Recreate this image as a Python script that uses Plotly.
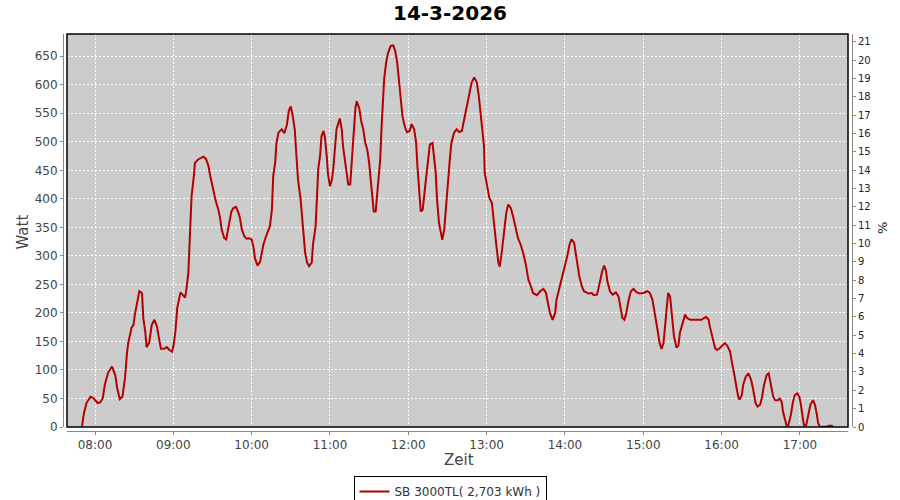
import plotly.graph_objects as go

day = "2026-03-14"
title_text = "14-3-2026"
series_name = "SB 3000TL( 2,703 kWh )"

times = [
    "07:50:00", "07:51:30", "07:53:30", "07:56:30", "07:58:30", "08:02:00", "08:04:00", "08:06:00", "08:07:30", "08:10:00",
    "08:13:00", "08:15:30", "08:17:00", "08:19:00", "08:21:00", "08:23:00", "08:24:30", "08:25:30", "08:28:00", "08:29:30",
    "08:30:30", "08:32:30", "08:34:00", "08:36:00", "08:37:00", "08:38:30", "08:39:30", "08:41:30", "08:43:30", "08:45:30",
    "08:47:30", "08:48:30", "08:50:30", "08:53:00", "08:55:00", "08:57:00", "08:59:00", "09:00:00", "09:01:30", "09:03:00",
    "09:04:30", "09:05:30", "09:07:00", "09:09:00", "09:10:00", "09:11:30", "09:13:00", "09:14:00", "09:16:00", "09:16:30",
    "09:19:00", "09:23:00", "09:25:00", "09:27:00", "09:28:00", "09:29:30", "09:31:00", "09:32:30", "09:34:30", "09:36:00",
    "09:37:00", "09:39:00", "09:40:30", "09:42:00", "09:43:30", "09:44:30", "09:46:00", "09:48:00", "09:49:30", "09:51:00",
    "09:52:30", "09:54:30", "09:56:00", "09:58:00", "10:00:00", "10:01:30", "10:02:30", "10:04:30", "10:06:30", "10:07:30",
    "10:09:00", "10:11:00", "10:13:00", "10:14:00", "10:15:30", "10:16:30", "10:18:00", "10:19:00", "10:20:30", "10:23:00",
    "10:25:00", "10:27:00", "10:28:30", "10:30:00", "10:31:30", "10:33:00", "10:34:30", "10:35:30", "10:37:30", "10:39:00",
    "10:41:00", "10:42:30", "10:44:00", "10:46:00", "10:47:00", "10:49:00", "10:50:00", "10:51:00", "10:52:30", "10:53:30",
    "10:55:00", "10:56:00", "10:57:30", "10:58:30", "11:00:00", "11:01:30", "11:02:30", "11:04:00", "11:05:00", "11:07:30",
    "11:09:00", "11:10:00", "11:13:00", "11:14:00", "11:15:30", "11:16:30", "11:18:00", "11:19:30", "11:20:30", "11:22:30",
    "11:24:00", "11:25:30", "11:27:00", "11:28:30", "11:30:00", "11:31:00", "11:32:30", "11:33:30", "11:35:00", "11:36:00",
    "11:37:30", "11:38:30", "11:39:30", "11:40:30", "11:41:30", "11:43:00", "11:44:30", "11:46:30", "11:48:30", "11:50:00",
    "11:51:30", "11:53:00", "11:54:30", "11:55:30", "11:57:30", "11:59:00", "12:01:00", "12:02:30", "12:04:30", "12:06:00",
    "12:07:00", "12:08:30", "12:09:30", "12:11:00", "12:12:00", "12:13:30", "12:15:30", "12:16:30", "12:18:30", "12:19:30",
    "12:21:00", "12:22:00", "12:23:30", "12:25:00", "12:26:00", "12:27:30", "12:29:00", "12:30:30", "12:32:00", "12:33:00",
    "12:35:00", "12:37:00", "12:39:00", "12:41:00", "12:42:00", "12:43:30", "12:45:00", "12:46:30", "12:48:30", "12:50:30",
    "12:52:30", "12:54:00", "12:55:30", "12:56:30", "12:58:00", "12:58:30", "13:00:30", "13:02:00", "13:04:00", "13:05:00",
    "13:06:30", "13:07:30", "13:09:00", "13:10:00", "13:11:30", "13:13:30", "13:15:00", "13:16:30", "13:18:30", "13:20:30",
    "13:22:30", "13:24:00", "13:26:00", "13:28:00", "13:30:00", "13:32:00", "13:34:00", "13:35:30", "13:38:30", "13:41:00",
    "13:43:30", "13:45:30", "13:47:00", "13:48:30", "13:50:30", "13:52:30", "13:53:30", "13:55:30", "13:57:00", "13:58:30",
    "14:00:00", "14:02:00", "14:03:30", "14:05:00", "14:07:00", "14:08:30", "14:09:30", "14:11:00", "14:13:00", "14:14:30",
    "14:18:00", "14:20:30", "14:22:00", "14:24:30", "14:25:30", "14:27:00", "14:28:30", "14:30:00", "14:31:30", "14:32:30",
    "14:34:30", "14:36:30", "14:39:00", "14:41:00", "14:42:30", "14:44:00", "14:45:30", "14:47:00", "14:48:30", "14:50:30",
    "14:52:30", "14:55:00", "14:57:30", "15:00:00", "15:03:00", "15:05:00", "15:07:00", "15:09:00", "15:10:30", "15:12:30",
    "15:14:00", "15:15:30", "15:16:30", "15:18:00", "15:19:00", "15:20:30", "15:22:00", "15:23:30", "15:25:30", "15:27:00",
    "15:28:00", "15:29:30", "15:32:00", "15:33:30", "15:36:00", "15:41:00", "15:44:30", "15:48:00", "15:50:00", "15:51:00",
    "15:53:00", "15:55:00", "15:56:30", "15:58:30", "16:01:00", "16:02:30", "16:04:30", "16:06:30", "16:07:30", "16:09:00",
    "16:10:00", "16:11:30", "16:13:00", "16:14:00", "16:15:30", "16:16:30", "16:18:30", "16:20:30", "16:22:30", "16:24:00",
    "16:25:00", "16:26:00", "16:27:30", "16:29:30", "16:31:00", "16:32:30", "16:34:30", "16:36:00", "16:37:00", "16:38:30",
    "16:39:30", "16:41:00", "16:43:00", "16:44:30", "16:46:00", "16:47:00", "16:48:30", "16:50:00", "16:51:00", "16:53:00",
    "16:54:30", "16:56:00", "16:58:00", "16:59:30", "17:00:30", "17:02:00", "17:03:00", "17:04:30", "17:06:30", "17:08:00",
    "17:10:00", "17:11:30", "17:13:00", "17:14:00", "17:15:30", "17:19:00", "17:20:30", "17:22:30", "17:24:30", "17:25:30",
]

watt = [
    0, 24, 42, 53, 51, 42, 43, 51, 74, 95,
    106, 91, 68, 49, 53, 86, 130, 148, 174, 179,
    197, 220, 238, 235, 191, 167, 140, 148, 179, 188,
    176, 162, 137, 137, 140, 135, 132, 141, 165, 209,
    227, 236, 232, 227, 241, 270, 352, 405, 446, 463,
    469, 474, 470, 457, 443, 425, 413, 396, 381, 364,
    346, 331, 329, 346, 364, 378, 384, 386, 378, 367,
    346, 334, 330, 331, 329, 314, 296, 283, 290, 305,
    320, 334, 346, 352, 381, 440, 463, 498, 516, 522,
    515, 530, 555, 562, 545, 522, 469, 434, 399, 352,
    305, 288, 282, 288, 320, 352, 405, 452, 478, 510,
    519, 510, 475, 443, 422, 434, 452, 492, 522, 541,
    522, 492, 446, 425, 425, 457, 504, 560, 571, 558,
    535, 522, 498, 487, 463, 434, 405, 378, 378, 405,
    452, 470, 525, 574, 610, 639, 656, 668, 669, 659,
    639, 604, 574, 545, 525, 517, 519, 531, 522, 498,
    457, 416, 378, 381, 405, 434, 475, 495, 498, 475,
    446, 399, 358, 340, 328, 346, 393, 428, 475, 498,
    516, 522, 517, 519, 531, 544, 566, 586, 604, 613,
    604, 580, 551, 522, 492, 446, 422, 402, 393, 369,
    346, 317, 288, 281, 305, 340, 375, 390, 384, 367,
    349, 331, 320, 305, 285, 258, 246, 235, 231, 238,
    242, 235, 217, 200, 188, 200, 223, 241, 258, 270,
    285, 302, 320, 329, 323, 299, 282, 264, 246, 238,
    234, 235, 231, 232, 241, 258, 273, 283, 273, 255,
    238, 232, 236, 229, 206, 191, 188, 200, 220, 238,
    242, 236, 234, 235, 238, 235, 223, 200, 176, 147,
    137, 147, 176, 206, 235, 229, 197, 159, 139, 143,
    165, 179, 197, 191, 188, 188, 188, 193, 188, 176,
    156, 138, 135, 138, 144, 147, 142, 132, 118, 103,
    88, 68, 50, 49, 56, 74, 88, 94, 83, 68,
    53, 42, 36, 39, 53, 74, 91, 94, 83, 68,
    53, 47, 47, 50, 44, 27, 12, 0, 2, 21,
    42, 56, 59, 53, 42, 18, 4, 0, 21, 39,
    47, 39, 21, 6, 0, 0, 1, 2, 2, 0,
]

hour_ticks = ["08:00", "09:00", "10:00", "11:00", "12:00", "13:00", "14:00", "15:00", "16:00", "17:00"]
watt_ticks = list(range(0, 651, 50))
pct_ticks = list(range(0, 22))

x_vals = [f"{day} {t}" for t in times]

fig = go.Figure()
fig.add_trace(go.Scatter(
    x=x_vals, y=watt, mode="lines", name=series_name,
    line=dict(color="#B40000", width=2), showlegend=True,
))
fig.add_trace(go.Scatter(x=[], y=[], yaxis="y2", showlegend=False, hoverinfo="skip"))

font_fam = "DejaVu Sans"
grid = dict(showgrid=True, gridcolor="white", griddash="2px,2px", gridwidth=1)

fig.update_layout(
    width=900, height=500,
    margin=dict(l=63, r=48, t=34, b=69, pad=0),
    paper_bgcolor="white", plot_bgcolor="#CCCCCC",
    font=dict(family=font_fam, size=12, color="#444444"),
    title=dict(text="<b>" + title_text + "</b>", x=0.5, xanchor="center", xref="container",
               y=1 - 13 / 500, yref="container", yanchor="middle",
               font=dict(family=font_fam, size=20, color="black")),
    xaxis=dict(
        type="date", domain=[4 / 789, 785 / 789], anchor="free", position=0,
        range=[f"{day} 07:38:33", f"{day} 17:36:48"],
        tickvals=[f"{day} {h}" for h in hour_ticks], ticktext=hour_ticks,
        showline=True, linecolor="#888888", linewidth=1,
        ticks="outside", ticklen=3, tickcolor="#888888",
        tickfont=dict(size=12, color="#444444"),
        zeroline=False, **grid,
    ),
    yaxis=dict(
        domain=[4 / 397, 1], anchor="free", position=0,
        range=[0, 689], tickvals=watt_ticks,
        showline=True, linecolor="#888888", linewidth=1,
        ticks="outside", ticklen=3, tickcolor="#888888",
        tickfont=dict(size=12, color="#444444"),
        zeroline=False, **grid,
    ),
    yaxis2=dict(
        overlaying="y", side="right", anchor="free", position=1,
        range=[0, 21.42], tickvals=pct_ticks,
        showline=True, linecolor="#888888", linewidth=1,
        ticks="outside", ticklen=3, tickcolor="#888888",
        tickfont=dict(size=10, color="#222222"),
        showgrid=False, zeroline=False,
    ),
    legend=dict(
        orientation="h", x=0.5, xanchor="center", xref="container",
        y=1 - 476 / 500, yanchor="top", yref="container",
        bordercolor="black", borderwidth=1, bgcolor="white",
        font=dict(size=12, color="#333333"),
        itemwidth=30, tracegroupgap=0,
    ),
    showlegend=True,
)

fig.add_shape(type="rect", xref="x domain", yref="y domain", x0=0, x1=1, y0=0, y1=1,
              line=dict(color="black", width=1.5), fillcolor="rgba(0,0,0,0)", layer="above")

fig.add_annotation(text="Watt", xref="paper", yref="paper", x=-41 / 789, y=0.5,
                   showarrow=False, textangle=-90, font=dict(size=15, color="#444444"),
                   xanchor="center", yanchor="middle")
fig.add_annotation(text="Zeit", xref="paper", yref="paper", x=(459 - 63) / 789, y=-(460 - 431) / 397,
                   showarrow=False, font=dict(size=15, color="#444444"),
                   xanchor="center", yanchor="middle")
fig.add_annotation(text="%", xref="paper", yref="paper", x=(882 - 63) / 789, y=(431 - 228) / 397,
                   showarrow=False, textangle=-90, font=dict(size=13, color="#222222"),
                   xanchor="center", yanchor="middle")

fig.write_html("out.html", config={"displayModeBar": False},
               post_script="document.body.style.margin='0';document.body.style.padding='0';")
